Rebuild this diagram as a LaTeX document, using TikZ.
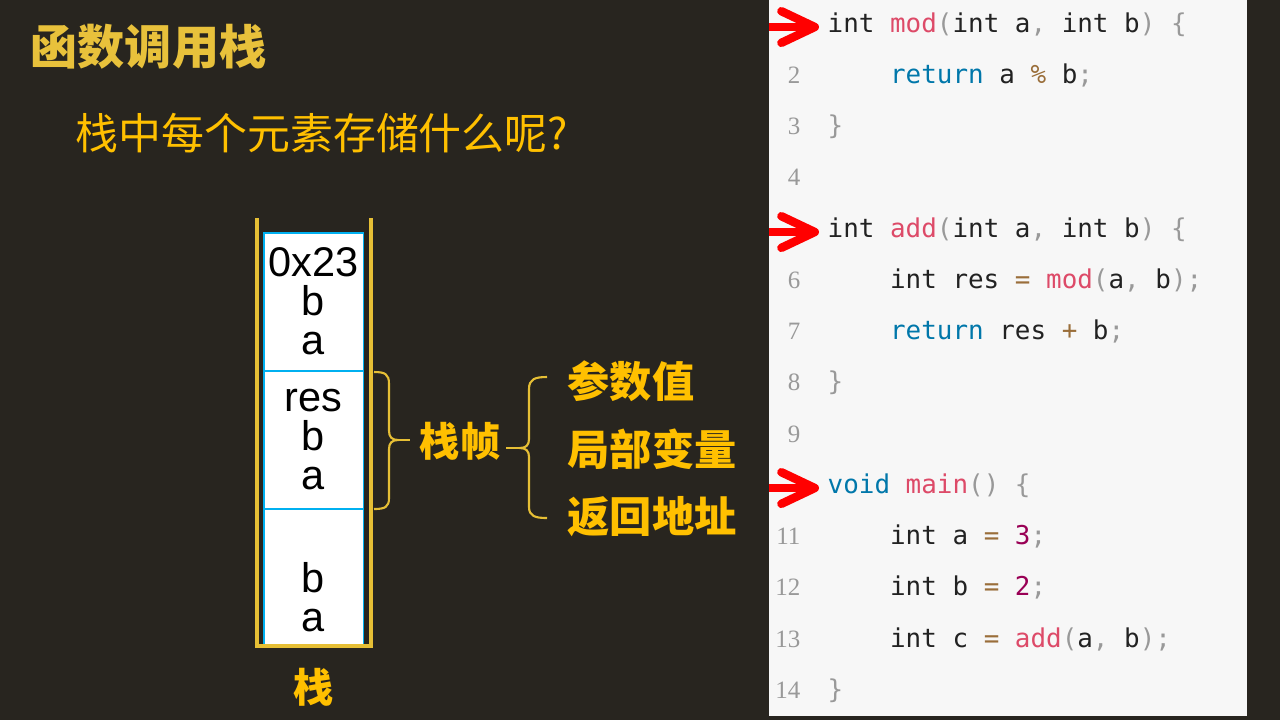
\documentclass[tikz,border=0pt]{standalone}
\usepackage{fontspec}
\setmainfont{Liberation Sans}
\newfontfamily\cjk{Noto Sans CJK SC}
\newfontfamily\codefont{DejaVu Sans Mono}
\newfontfamily\numfont{Liberation Serif}
\usetikzlibrary{positioning,arrows.meta}

\definecolor{slidebg}{HTML}{28251F}
\definecolor{titlegold}{HTML}{E8C13B}
\definecolor{textgold}{HTML}{FFC000}
\definecolor{wallgold}{HTML}{E6BF35}
\definecolor{cellblue}{HTML}{00B0F0}
\definecolor{panelgray}{HTML}{F7F7F7}
\definecolor{codeblack}{HTML}{222222}
\definecolor{kwblue}{HTML}{0077AA}
\definecolor{fnpink}{HTML}{DD4A68}
\definecolor{punct}{HTML}{999999}
\definecolor{opbrown}{HTML}{9A6E3A}
\definecolor{numred}{HTML}{990055}

\newcommand{\kw}[1]{\textcolor{kwblue}{#1}}
\newcommand{\fn}[1]{\textcolor{fnpink}{#1}}
\newcommand{\pu}[1]{\textcolor{punct}{#1}}
\newcommand{\opr}[1]{\textcolor{opbrown}{#1}}
\newcommand{\nv}[1]{\textcolor{numred}{#1}}

\tikzset{
  title/.style={anchor=west, inner sep=0pt, text=titlegold, font=\cjk\bfseries\fontsize{13.4pt}{14pt}\selectfont},
  question/.style={anchor=west, inner sep=0pt, text=textgold, font=\cjk\fontsize{12.2pt}{13pt}\selectfont},
  gold/.style={inner sep=0pt, text=textgold, font=\cjk\bfseries\fontsize{11.4pt}{12pt}\selectfont},
  item/.style={anchor=west, inner sep=0pt, text=textgold, font=\cjk\bfseries\fontsize{12pt}{13pt}\selectfont},
  cell/.style={draw=cellblue, line width=0.3pt, fill=white, minimum width=0.99cm, minimum height=1.37cm,
    inner sep=0pt, align=center, text=black, font=\fontsize{11.8pt}{11.1pt}\selectfont},
  stackwall/.style={draw=wallgold, line width=0.9pt},
  braceline/.style={draw=wallgold, line width=0.6pt},
  code/.style={anchor=base west, inner xsep=0.08cm, inner ysep=0pt, text=codeblack,
    font=\codefont\fontsize{7.37pt}{8pt}\selectfont},
  lineno/.style={anchor=base east, inner sep=0pt, text=punct, font=\numfont\fontsize{7.1pt}{8pt}\selectfont},
  pointer/.style={draw=red, line width=2.4pt, -{Straight Barb[length=9.5pt, width=9pt, round]}}
}

\begin{document}
\begin{tikzpicture}[x=0.01cm, y=-0.01cm]
\path[fill=slidebg, use as bounding box] (0,0) rectangle (1280,720);
\fill[panelgray] (769,0) rectangle (1247,716);

\node[title] (title) at (30,47) {函数调用栈};
\node[question] (ask) at (75,133) {栈中每个元素存储什么呢?};

% the stack
\node[cell] (cell1) at (313.5,301.5) {0x23\\b\\a};
\node[cell, below=0cm of cell1] (cell2) {res\\b\\a};
\node[cell, below=0cm of cell2] (cell3) {\vphantom{b}\\b\\a};
\draw[stackwall] (257,218) -- (257,646) -- (371,646) -- (371,218);
\node[gold] (stack) at (314,687) {栈};

\node[gold] (frame) at (460,441) {栈帧};
\node[item] (param) at (567,381) {参数值};
\node[item] (local) at (567,449) {局部变量};
\node[item] (ret) at (567,517) {返回地址};

% braces
\coordinate (tip1) at (398,440);
\coordinate (tip2) at (520,448);
\draw[braceline] (374,372) .. controls (385,372) and (389,374) .. (389,384) -- (389,431)
  .. controls (389,437) and (392,440) .. (tip1) .. controls (392,440) and (389,443) .. (389,449)
  -- (389,498) .. controls (389,507) and (385,509) .. (374,509);
\draw[braceline] (tip1) -- ([xshift=-0.09cm]frame.west |- tip1);
\draw[braceline] (547,377) .. controls (535,377) and (529,379) .. (529,389) -- (529,439)
  .. controls (529,445) and (526,448) .. (tip2) .. controls (526,448) and (529,451) .. (529,457)
  -- (529,507) .. controls (529,516) and (535,518) .. (547,518);
\draw[braceline] (tip2) -- ([xshift=0.05cm]frame.east |- tip2);

% code listing
\foreach \n in {2,3,4,6,7,8,9,11,12,13,14}
  \node[lineno] (n\n) at (801,{32+(\n-1)*51.25}) {\n};
\node[code] (l1) at (819,32) {int \fn{mod}\pu{(}int a\pu{,} int b\pu{)} \pu{\{}};
\node[code] (l2) at (881.4,83.25) {\kw{return} a \opr{\%} b\pu{;}};
\node[code] (l3) at (819,134.5) {\pu{\}}};
\node[code] (l5) at (819,237) {int \fn{add}\pu{(}int a\pu{,} int b\pu{)} \pu{\{}};
\node[code] (l6) at (881.4,288.25) {int res \opr{=} \fn{mod}\pu{(}a\pu{,} b\pu{);}};
\node[code] (l7) at (881.4,339.5) {\kw{return} res \opr{+} b\pu{;}};
\node[code] (l8) at (819,390.75) {\pu{\}}};
\node[code] (l10) at (819,493.25) {\kw{void} \fn{main}\pu{()} \pu{\{}};
\node[code] (l11) at (881.4,544.5) {int a \opr{=} \nv{3}\pu{;}};
\node[code] (l12) at (881.4,595.75) {int b \opr{=} \nv{2}\pu{;}};
\node[code] (l13) at (881.4,647) {int c \opr{=} \fn{add}\pu{(}a\pu{,} b\pu{);}};
\node[code] (l14) at (819,698.25) {\pu{\}}};

\coordinate (p1) at (769,27);
\coordinate (p5) at (769,232);
\coordinate (p10) at (769,488);
\draw[pointer] (p1) -- (p1 -| l1.west);
\draw[pointer] (p5) -- (p5 -| l5.west);
\draw[pointer] (p10) -- (p10 -| l10.west);
\end{tikzpicture}
\end{document}
